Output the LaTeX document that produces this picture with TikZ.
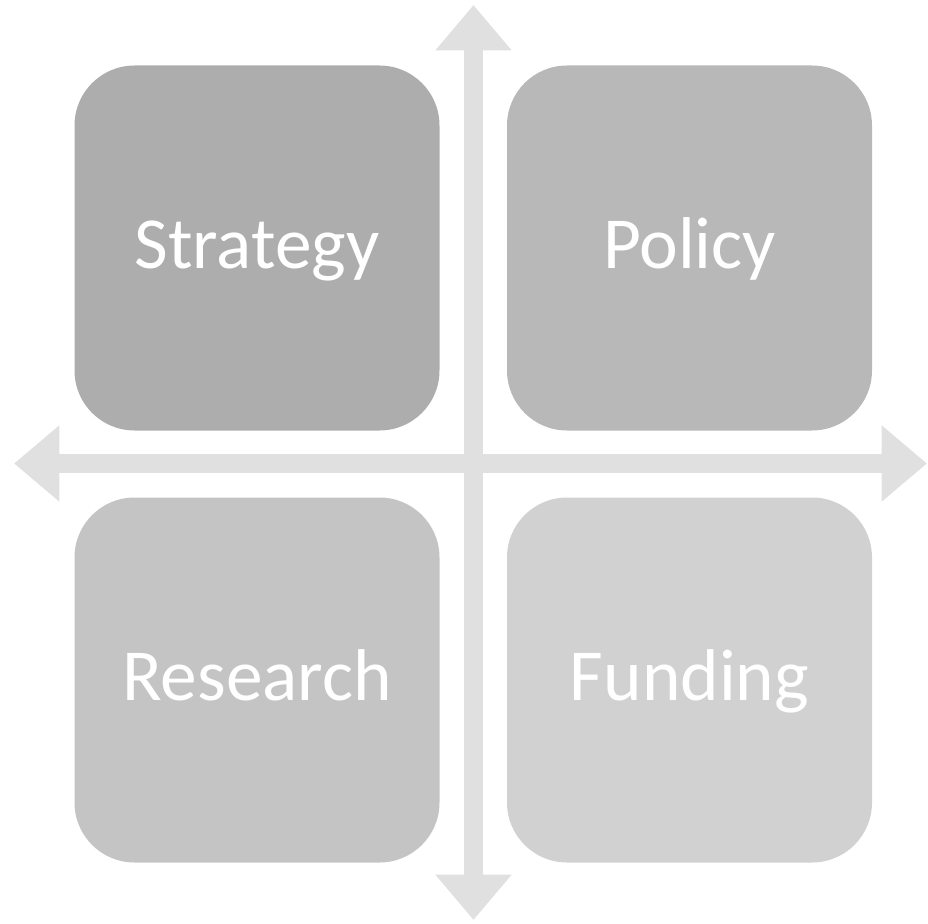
\documentclass[tikz,border=0pt]{standalone}
\usepackage{fontspec}
\setmainfont{Carlito}
\usepackage{tikz}
\usetikzlibrary{arrows.meta}
\definecolor{boxA}{HTML}{ADADAD}
\definecolor{boxB}{HTML}{B8B8B8}
\definecolor{boxC}{HTML}{C4C4C4}
\definecolor{boxD}{HTML}{D1D1D1}
\definecolor{axisgray}{HTML}{E0E0E0}
\tikzset{
  quadbox/.style={rounded corners=45pt, minimum width=273.75pt, minimum height=273.75pt,
    inner sep=0pt, text=white, text height=40pt, text depth=10pt,
    font=\fontsize{55}{60}\selectfont},
  axisarrow/.style={draw=axisgray, line width=14.25pt,
    {Triangle[length=34pt,width=55pt]}-{Triangle[length=34pt,width=55pt]}}
}
\begin{document}
\begin{tikzpicture}[x=0.75pt,y=-0.75pt]
\useasboundingbox (0,0) rectangle (928,924);
\coordinate (top) at (473.5,5);
\coordinate (bottom) at (473.5,920);
\coordinate (left) at (14,463.5);
\coordinate (right) at (927,463.5);
\draw[axisarrow] (bottom) -- (top);
\draw[axisarrow] (left) -- (right);
\node[quadbox, fill=boxA] (strategy) at (257,248) {Strategy};
\node[quadbox, fill=boxB] (policy) at (689.5,248) {Policy};
\node[quadbox, fill=boxC] (research) at (257,680) {Research};
\node[quadbox, fill=boxD] (funding) at (689.5,680) {Funding};
\end{tikzpicture}
\end{document}
